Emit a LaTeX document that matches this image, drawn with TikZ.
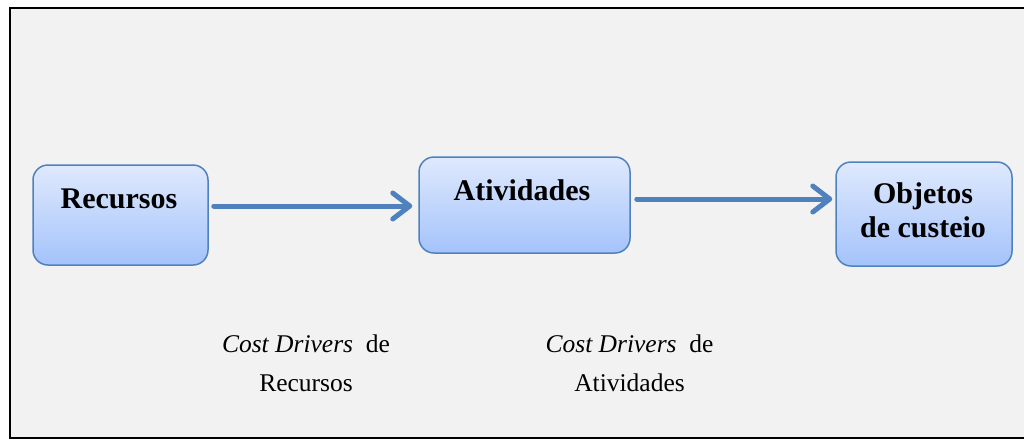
\documentclass[tikz,border=0pt]{standalone}
\usepackage{fontspec}
\setmainfont{Liberation Serif}
\usetikzlibrary{arrows.meta}
\definecolor{pagegray}{RGB}{242,242,242}
\definecolor{boxline}{RGB}{79,129,189}
\definecolor{boxtop}{RGB}{223,233,253}
\definecolor{boxbottom}{RGB}{164,195,251}
\tikzset{
    box/.style={draw=boxline, line width=1.5pt, rounded corners=15pt,
        top color=boxtop, bottom color=boxbottom, inner sep=0pt},
    boxtext/.style={font=\fontsize{30}{34}\selectfont\bfseries, align=center, anchor=base},
    drivertext/.style={font=\fontsize{25.5}{39}\selectfont, align=center, anchor=base},
    link/.style={draw=boxline, line width=5pt, line cap=round,
        -{Straight Barb[length=17pt,width=26pt,line cap=round,line join=round]}}
}
\begin{document}
\begin{tikzpicture}[x=1pt,y=-1pt]
    \useasboundingbox (0,0) rectangle (1024,440);
    \draw[fill=pagegray, line width=2pt] (10,8) rectangle (1030,438);

    % boxes
    \node[box, minimum width=175pt, minimum height=100pt] (rec) at (120.5,215) {};
    \node[box, minimum width=211pt, minimum height=96pt] (atv) at (524.5,205) {};
    \node[box, minimum width=176pt, minimum height=104pt] (obj) at (924,214) {};
    \node[boxtext] (rec text) at (119,208) {Recursos};
    \node[boxtext] (atv text) at (522,200) {Atividades};
    \node[boxtext] (obj text) at (923,237) {Objetos\\de custeio};

    % arrows
    \draw[link] ([xshift=5pt,yshift=-1pt]rec.east |- atv.center) -- ([xshift=-6pt,yshift=-1pt]atv.west);
    \draw[link] ([xshift=6pt,yshift=6pt]atv.east) -- ([xshift=-3pt]obj.west |- 0,199);

    % drivers
    \node[drivertext] (rec drv) at (306,391) {\textit{Cost Drivers}~ de\\Recursos};
    \node[drivertext] (atv drv) at (629.5,391) {\textit{Cost Drivers}~ de\\Atividades};
\end{tikzpicture}
\end{document}
